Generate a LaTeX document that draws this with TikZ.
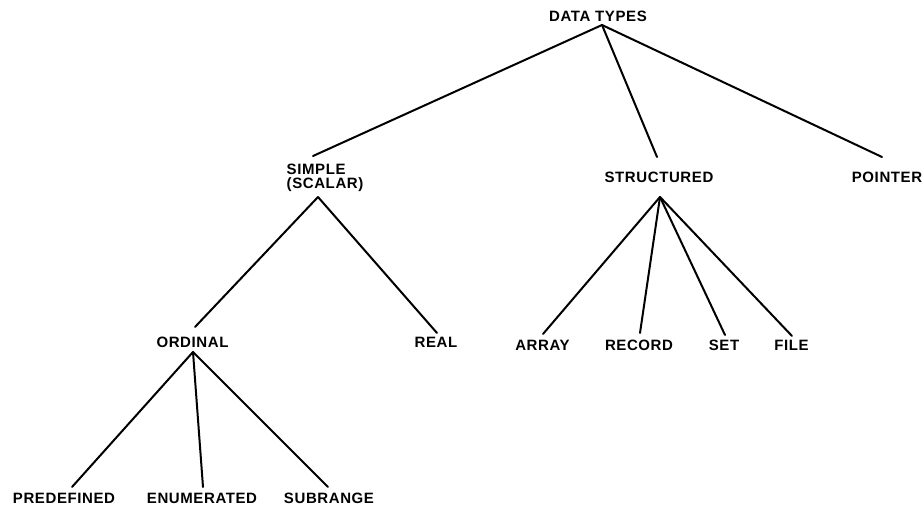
\documentclass[tikz,border=0pt]{standalone}
\usepackage{fontspec}
\setmainfont{Liberation Sans}[LetterSpace=4]
\begin{document}
\begin{tikzpicture}[x=1pt,y=-1pt,
  lbl/.style={inner sep=0pt,anchor=base,font=\bfseries\fontsize{15}{14}\selectfont},
  edge/.style={line width=2pt,line cap=round}]
\useasboundingbox (0,0) rectangle (923,510);
% nodes (baseline positions)
\node[lbl] (dt) at (598,22) {DATA TYPES};
\node[lbl,anchor=north west,align=left] (si) at (286.5,164) {SIMPLE\\(SCALAR)};
\node[lbl] (st) at (659,183) {STRUCTURED};
\node[lbl] (po) at (887,183) {POINTER};
\node[lbl] (or) at (192.5,348) {ORDINAL};
\node[lbl] (re) at (436,348) {REAL};
\node[lbl] (ar) at (542.5,350) {ARRAY};
\node[lbl] (rc) at (639,350) {RECORD};
\node[lbl] (se) at (724,350) {SET};
\node[lbl] (fi) at (791.5,350) {FILE};
\node[lbl] (pd) at (64,503) {PREDEFINED};
\node[lbl] (en) at (202,503) {ENUMERATED};
\node[lbl] (sr) at (329,503) {SUBRANGE};
% connectors
\draw[edge] ([shift={(4,3)}]dt.base) -- ([shift={(26.5,-8)}]si.north west);
\draw[edge] ([shift={(4,3)}]dt.base) -- ([shift={(-2,-26)}]st.base);
\draw[edge] ([shift={(4,3)}]dt.base) -- ([shift={(-5,-26)}]po.base);
\draw[edge] ([shift={(31.5,33)}]si.north west) -- ([shift={(2.5,-21)}]or.base);
\draw[edge] ([shift={(31.5,33)}]si.north west) -- ([shift={(1,-15)}]re.base);
\draw[edge] ([shift={(1,14)}]st.base) -- ([shift={(0.5,-16)}]ar.base);
\draw[edge] ([shift={(1,14)}]st.base) -- ([shift={(1,-17)}]rc.base);
\draw[edge] ([shift={(1,14)}]st.base) -- ([shift={(1,-15)}]se.base);
\draw[edge] ([shift={(1,14)}]st.base) -- ([shift={(0.5,-14)}]fi.base);
\draw[edge] ([shift={(0.5,4)}]or.base) -- ([shift={(8,-16)}]pd.base);
\draw[edge] ([shift={(0.5,4)}]or.base) -- ([shift={(1,-16)}]en.base);
\draw[edge] ([shift={(0.5,4)}]or.base) -- ([shift={(-1,-16)}]sr.base);
\end{tikzpicture}
\end{document}
